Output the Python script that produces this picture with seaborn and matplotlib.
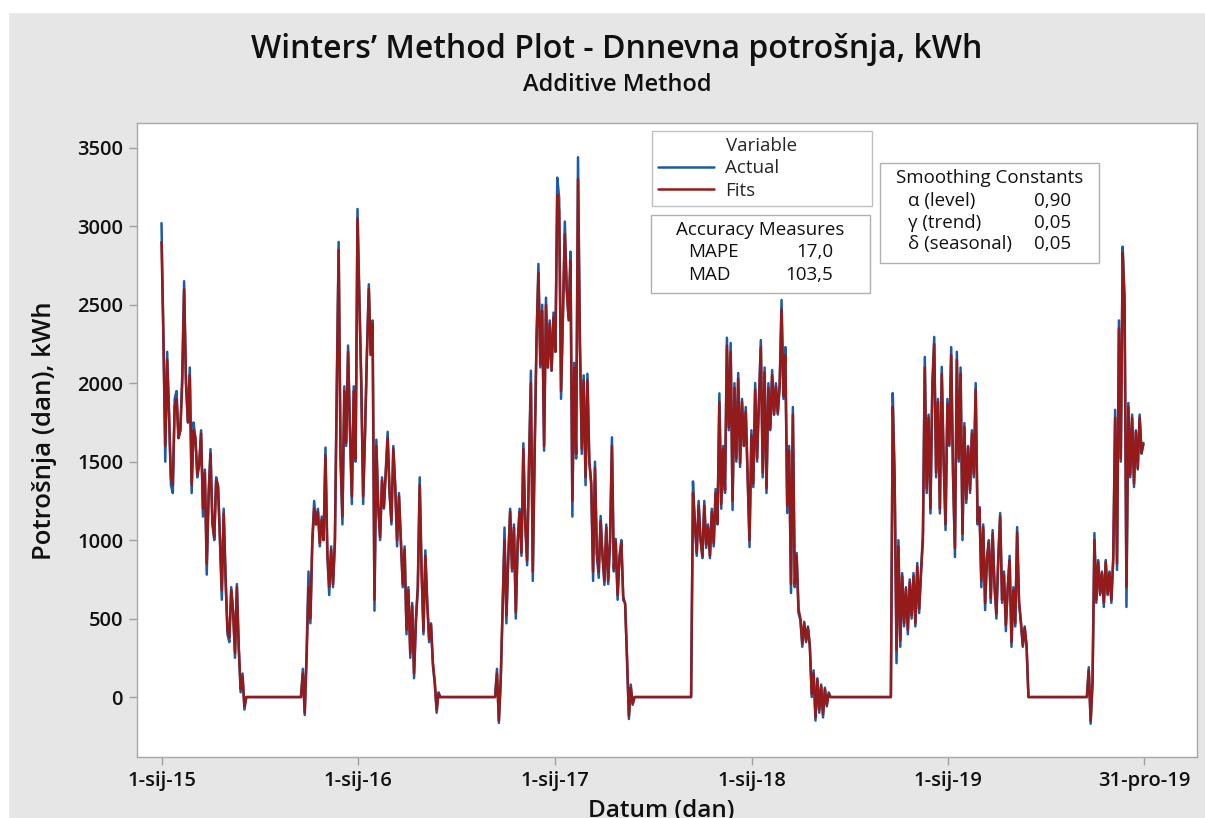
import pandas as pd
import matplotlib.pyplot as plt
from matplotlib.patches import Rectangle
import seaborn as sns

# vrijednosti ocitane s grafa, svaka 3,5 dana od 1.1.2015.
# sezona grijanja 2014/15
actual_s15 = [3020, 2300, 1500, 2200, 1800, 1350, 1300, 1900, 1950, 1650,
              1700, 2050, 2650, 2000, 1750, 2100, 1300, 1750, 1650, 1400,
              1480, 1700, 1150, 1450, 780, 1300, 1580, 1100, 1000, 1400,
              1350, 1000, 620, 1200, 750, 400, 350, 700, 550, 250,
              720, 300, 30, 150, -80]
fits_s15 = [2900, 2300, 1600, 2150, 1800, 1400, 1350, 1850, 1900, 1650,
            1700, 2000, 2600, 2000, 1750, 2050, 1350, 1700, 1650, 1420,
            1480, 1680, 1200, 1430, 850, 1280, 1550, 1120, 1020, 1380,
            1340, 1020, 680, 1170, 760, 430, 380, 680, 540, 280,
            700, 320, 50, 130, -60]
summer_15 = [0, 0, 0, 0, 0, 0, 0, 0, 0, 0, 0, 0, 0, 0, 0,
             0, 0, 0, 0, 0, 0, 0, 0, 0, 0, 0, 0, 0, 0, 0]

# sezona 2015/16
actual_s16 = [180, -115, 300, 800, 470, 1000, 1250, 1100, 1200, 960,
              1150, 1000, 1590, 900, 650, 960, 700, 1000, 2000, 2900,
              1500, 1100, 1980, 1600, 2240, 1700, 1230, 1980, 1500, 3110,
              2545, 2000, 1230, 1690, 2200, 2630, 2180, 2400, 550, 1640,
              1200, 1000, 1400, 1200, 1450, 1690, 1300, 1100, 1600, 1350,
              960, 1300, 1000, 700, 960, 400, 700, 250, 600, 120,
              500, 700, 1400, 800, 400, 935, 600, 350, 470, 200,
              80, -100, 30]
fits_s16 = [150, -100, 250, 700, 500, 980, 1200, 1100, 1180, 980,
            1130, 1000, 1540, 920, 700, 940, 720, 980, 1900, 2850,
            1550, 1150, 1950, 1620, 2200, 1700, 1280, 1950, 1520, 3050,
            2500, 2000, 1280, 1680, 2180, 2600, 2180, 2380, 620, 1600,
            1220, 1020, 1380, 1210, 1430, 1650, 1310, 1120, 1580, 1340,
            1000, 1280, 1000, 720, 940, 430, 680, 280, 580, 150,
            480, 700, 1350, 800, 420, 900, 600, 370, 460, 220,
            100, -80, 20]
summer_16 = [0, 0, 0, 0, 0, 0, 0, 0, 0, 0, 0, 0, 0, 0, 0,
             0, 0, 0, 0, 0, 0, 0, 0, 0, 0, 0, 0, 0, 0, 0]

# sezona 2016/17
actual_s17 = [180, -165, 100, 600, 1080, 470, 900, 1200, 800, 1100,
              500, 1000, 1200, 900, 1617, 1100, 840, 1500, 2080, 740,
              1600, 2300, 2760, 2100, 2500, 1570, 2545, 2100, 2400, 2080,
              2450, 2200, 3310, 3180, 1900, 2450, 3030, 2600, 2420, 2838,
              1150, 2130, 1520, 3440, 2277, 1550, 2050, 1350, 2060, 1500,
              1350, 740, 1500, 900, 760, 1154, 900, 715, 1100, 720,
              1000, 1655, 800, 1008, 620, 900, 1000, 617, 600, 227,
              -140, 80, -50]
fits_s17 = [150, -150, 120, 550, 1000, 520, 880, 1180, 820, 1080,
            540, 980, 1180, 920, 1580, 1100, 870, 1480, 2000, 800,
            1560, 2280, 2700, 2120, 2460, 1600, 2500, 2100, 2380, 2080,
            2420, 2200, 3200, 3100, 1950, 2420, 2950, 2600, 2400, 2780,
            1250, 2100, 1550, 3300, 2250, 1580, 2020, 1400, 2020, 1500,
            1370, 800, 1460, 920, 800, 1120, 900, 740, 1080, 740,
            990, 1600, 820, 990, 650, 880, 980, 640, 590, 260,
            -120, 60, -40]
summer_17 = [0, 0, 0, 0, 0, 0, 0, 0, 0, 0, 0, 0, 0, 0, 0, 0,
             0, 0, 0, 0, 0, 0, 0, 0, 0, 0, 0, 0, 0, 0, 0]

# sezona 2017/18
actual_s18 = [1374, 1100, 900, 1250, 1000, 885, 1250, 950, 1100, 885,
              1200, 960, 1325, 1100, 1935, 1200, 1600, 1300, 2290, 1700,
              2256, 1192, 2000, 1500, 2065, 1466, 1900, 1600, 1848, 1400,
              956, 1700, 1338, 2001, 1500, 1900, 2275, 1400, 2100, 1300,
              2000, 1700, 2084, 1800, 2000, 1800, 2000, 2530, 1900, 2230,
              1173, 1600, 663, 1848, 700, 918, 535, 490, 320, 480,
              350, 450, 320, 0, 170, -150, 120, -100, 80, -130,
              60, -60, 30]
fits_s18 = [1300, 1120, 920, 1220, 1010, 900, 1220, 970, 1080, 900,
            1180, 980, 1300, 1110, 1880, 1230, 1580, 1320, 2240, 1720,
            2200, 1250, 1970, 1520, 2030, 1490, 1880, 1600, 1820, 1420,
            1000, 1670, 1360, 1960, 1520, 1880, 2230, 1430, 2070, 1330,
            1970, 1710, 2050, 1800, 1980, 1810, 1980, 2470, 1920, 2180,
            1220, 1570, 720, 1800, 720, 900, 560, 500, 340, 470,
            360, 440, 330, 20, 150, -130, 110, -80, 70, -110,
            50, -50, 20]
summer_18 = [0, 0, 0, 0, 0, 0, 0, 0, 0, 0, 0, 0, 0, 0, 0, 0, 0,
             0, 0, 0, 0, 0, 0, 0, 0, 0, 0, 0, 0, 0, 0, 0, 0]

# sezona 2018/19
actual_s19 = [1937, 1380, 216, 1000, 320, 790, 450, 700, 400, 750,
              500, 790, 450, 854, 535, 800, 1045, 2167, 1300, 1800,
              1170, 2000, 2295, 1400, 1900, 1170, 2104, 1500, 1064, 1900,
              1600, 2230, 1400, 892, 2200, 1500, 2100, 1000, 1746, 1236,
              1600, 1300, 1700, 1400, 2001, 1100, 1211, 700, 1100, 554,
              900, 1000, 600, 1064, 700, 500, 900, 1173, 600, 800,
              420, 700, 900, 320, 700, 450, 1083, 600, 472, 320,
              450, 320]
fits_s19 = [1850, 1400, 300, 960, 360, 770, 470, 690, 430, 730,
            520, 770, 470, 830, 560, 790, 1000, 2100, 1330, 1780,
            1200, 1970, 2250, 1430, 1880, 1200, 2060, 1510, 1100, 1870,
            1610, 2180, 1420, 950, 2150, 1520, 2060, 1040, 1720, 1260,
            1590, 1320, 1680, 1420, 1960, 1120, 1200, 740, 1080, 600,
            880, 980, 630, 1040, 710, 530, 880, 1150, 620, 780,
            460, 690, 870, 350, 680, 470, 1050, 610, 480, 330,
            440, 330]
summer_19 = [0, 0, 0, 0, 0, 0, 0, 0, 0, 0, 0, 0, 0, 0, 0, 0,
             0, 0, 0, 0, 0, 0, 0, 0, 0, 0, 0, 0, 0, 0, 0, 0]

# pocetak sezone 2019/20
actual_s20 = [190, -170, 100, 1045, 600, 873, 650, 800, 574, 873,
              650, 800, 600, 900, 1830, 810, 2400, 1500, 2870, 2550,
              574, 1874, 1400, 1800, 1338, 1700, 1450, 1800, 1550, 1620]
fits_s20 = [170, -150, 90, 1000, 620, 860, 660, 790, 600, 860,
            660, 790, 620, 880, 1780, 850, 2350, 1520, 2830, 2500,
            700, 1850, 1420, 1780, 1360, 1690, 1460, 1780, 1560, 1610]

tick_dates = ['2015-01-01', '2016-01-01', '2017-01-01', '2018-01-01', '2019-01-01', '2019-12-31']
tick_labels = ['1-sij-15', '1-sij-16', '1-sij-17', '1-sij-18', '1-sij-19', '31-pro-19']
y_ticks = [0, 500, 1000, 1500, 2000, 2500, 3000, 3500]

accuracy_names = ['MAPE', 'MAD']
accuracy_values = ['17,0', '103,5']
smoothing_names = ['α (level)', 'γ (trend)', 'δ (seasonal)']
smoothing_values = ['0,90', '0,05', '0,05']

actual = (actual_s15 + summer_15 + actual_s16 + summer_16 + actual_s17 + summer_17
          + actual_s18 + summer_18 + actual_s19 + summer_19 + actual_s20)
fits = (fits_s15 + summer_15 + fits_s16 + summer_16 + fits_s17 + summer_17
        + fits_s18 + summer_18 + fits_s19 + summer_19 + fits_s20)

dates = pd.date_range('2015-01-01', periods=len(actual), freq='84h')
df = pd.DataFrame({'Datum': dates, 'Actual': actual, 'Fits': fits})

sns.set_theme(style='white')
plt.rcParams['font.family'] = ['Open Sans', 'DejaVu Sans']

W, H = 1205, 818
fig = plt.figure(figsize=(W / 100, H / 100), dpi=100, facecolor='#e6e6e6')


def fx(x):
    return x / W


def fy(y):
    return 1 - y / H


# bijeli rub gore i lijevo
fig.patches.append(Rectangle((0, fy(12)), 1, 12 / H, transform=fig.transFigure, color='white', zorder=0))
fig.patches.append(Rectangle((0, 0), 8 / W, 1, transform=fig.transFigure, color='white', zorder=0))

ax = fig.add_axes([fx(137), fy(757), (1197 - 137) / W, (757 - 123) / H])
ax.set_facecolor('white')

sns.lineplot(data=df, x='Datum', y='Actual', ax=ax, color='#1b5ca8', lw=1.8, label='Actual')
sns.lineplot(data=df, x='Datum', y='Fits', ax=ax, color='#951a1a', lw=1.8, label='Fits')

start = pd.Timestamp('2015-01-01')
ax.set_xlim(start - pd.Timedelta(days=45.5), start + pd.Timedelta(days=1923))
ax.set_ylim(-382, 3658)
ax.set_xticks(pd.to_datetime(tick_dates))
ax.set_xticklabels(tick_labels)
ax.set_yticks(y_ticks)
ax.set_xlabel('')
ax.set_ylabel('')
ax.tick_params(axis='both', bottom=True, left=True, direction='out', length=6, width=1,
               color='#a0a0a0', labelsize=14.5, labelcolor='#111111', pad=4)
for lab in ax.get_xticklabels() + ax.get_yticklabels():
    lab.set_fontweight('semibold')
for s in ax.spines.values():
    s.set_color('#a8a8a8')
    s.set_linewidth(1)

fig.text(fx(617), fy(50), 'Winters’ Method Plot - Dnnevna potrošnja, kWh', ha='center', va='center',
         fontsize=23, fontweight='semibold', color='#111111')
fig.text(fx(617), fy(85), 'Additive Method', ha='center', va='center', fontsize=17,
         fontweight='semibold', color='#111111')
fig.text(fx(45), fy(431), 'Potrošnja (dan), kWh', rotation=90, ha='center', va='center',
         fontsize=18.5, fontweight='semibold', color='#111111')
fig.text(fx(661), fy(811), 'Datum (dan)', ha='center', va='center', fontsize=17.5,
         fontweight='semibold', color='#111111')

leg = ax.legend(title='Variable', loc='upper left',
                bbox_to_anchor=(fx(652), fy(131) - 0.05, 220 / W, 0.05),
                bbox_transform=fig.transFigure, mode='expand', frameon=True, fancybox=False,
                prop={'size': 13.5, 'weight': 'medium'}, title_fontproperties={'size': 13.5, 'weight': 'medium'},
                handlelength=3.0, handletextpad=0.6, borderpad=0.3, labelspacing=0.25,
                borderaxespad=0)
leg.get_frame().set_edgecolor('#b0b0b0')
leg.get_frame().set_linewidth(1)
for line in leg.get_lines():
    line.set_linewidth(1.8)


def box(x0, y0, x1, y1):
    fig.patches.append(Rectangle((fx(x0), fy(y1)), (x1 - x0) / W, (y1 - y0) / H,
                                 transform=fig.transFigure, facecolor='white',
                                 edgecolor='#b0b0b0', lw=1, zorder=5))


txt = dict(fontsize=13.5, fontweight='medium', color='#111111', va='center', zorder=6)

box(651, 215, 870, 293)
fig.text(fx(760), fy(230), 'Accuracy Measures', ha='center', **txt)
for i, (n, v) in enumerate(zip(accuracy_names, accuracy_values)):
    yy = 252 + i * 23
    fig.text(fx(688), fy(yy), n, ha='left', **txt)
    fig.text(fx(833), fy(yy), v, ha='right', **txt)

box(880, 163, 1099, 263)
fig.text(fx(990), fy(178), 'Smoothing Constants', ha='center', **txt)
for i, (n, v) in enumerate(zip(smoothing_names, smoothing_values)):
    yy = 201 + i * 21.5
    fig.text(fx(908), fy(yy), n, ha='left', **txt)
    fig.text(fx(1071), fy(yy), v, ha='right', **txt)

fig.savefig('out.png', dpi=100, facecolor=fig.get_facecolor())
